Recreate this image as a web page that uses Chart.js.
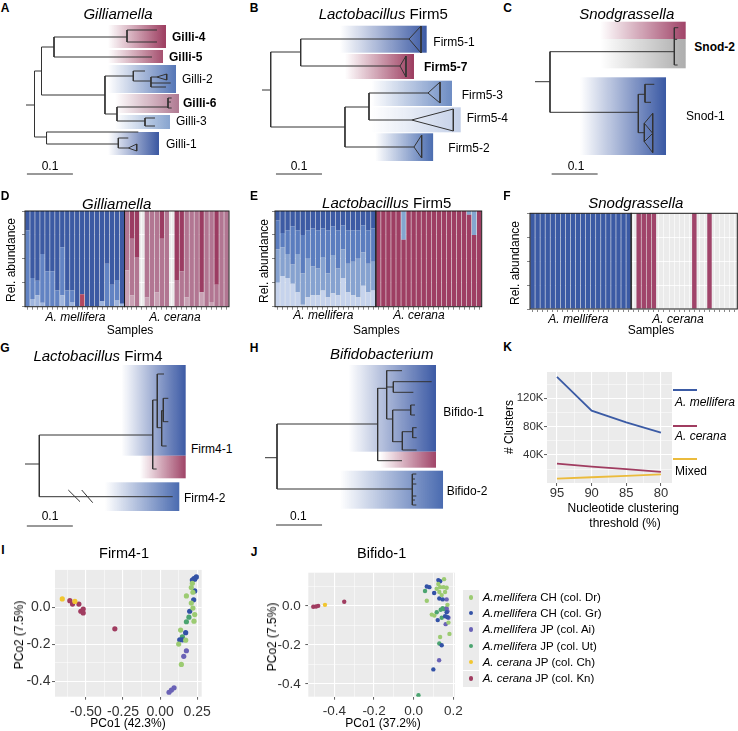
<!DOCTYPE html>
<html>
<head>
<meta charset="utf-8">
<script src="https://cdn.jsdelivr.net/npm/chart.js@4.4.1/dist/chart.umd.min.js"></script>
<style>
  body { margin: 0; background: #fff; }
  #fig { position: relative; width: 738px; height: 731px; overflow: hidden; font-family: 'Liberation Sans', Arial, sans-serif; color: #000; }
  #fig canvas { position: absolute; }
  .t { position: absolute; white-space: nowrap; line-height: 1; }
</style>
</head>
<body>
<div id="fig"></div>
<script>
// ---------- trees (x: branch length in 0.01 subst/site, y: row units) ----------
const gilliEdges = [
  [0,8.5,1.85,8.5],[1.85,5.1,1.85,11.7],[1.85,5.1,3.37,5.1],[3.37,2.7,3.37,7.5],
  [3.37,2.7,6.09,2.7],[6.09,1.7,6.09,3.7],[6.09,1.7,21.96,1.7],[21.96,1.0,21.96,2.2],
  [21.96,1.0,28.48,1.0],[21.96,2.2,28.48,2.2],[6.09,3.7,27.39,3.7],
  [3.37,7.5,17.17,7.5],[17.17,5.6,17.17,9.4],[17.17,5.6,23.33,5.6],[23.33,5.1,23.33,6.1],
  [23.33,5.1,25.87,5.1],[23.33,6.1,27.17,6.1],[27.17,5.7,27.17,6.7],[27.17,5.7,28.41,5.7],
  [27.17,6.3,31.46,6.3],[27.17,6.7,30.43,6.7],[17.17,9.4,19.78,9.4],[19.78,8.7,19.78,10.1],
  [19.78,8.7,30.87,8.7],[30.87,7.8,30.87,8.8],[30.87,7.8,31.67,7.8],[30.87,8.2,31.5,8.2],
  [30.87,8.8,31.67,8.8],[19.78,10.1,25.87,10.1],[25.87,9.8,25.87,10.6],[25.87,9.8,28.04,9.8],
  [25.87,10.6,28.04,10.6],[1.85,11.7,4.46,11.7],[4.46,11.2,4.46,12.4],[4.46,11.2,24.42,11.2],
  [4.46,12.4,20.07,12.4],[20.07,11.8,20.07,12.8],[20.07,11.8,22.24,11.8],[20.07,12.8,22.24,12.8]
];
const gilliTris = [[28.41,5.7,30.59,5.4,6.0],[22.24,12.8,24.07,12.4,13.1]];
const gilliClades = [
  [17.83,30.43,0.5,2.8,'#9c3c5f'],[17.83,29.78,3.0,4.3,'#a5506f'],[17.83,32.61,4.5,7.3,'#5576b6'],
  [19.35,33.26,7.4,9.3,'#b07a92'],[19.35,31.30,9.5,10.9,'#87a4cf'],[17.83,28.91,11.2,13.5,'#3a57a1']
];
const gilliScale = [0.2,10.2,15.4];

const firm5Edges = [
  [0,7.0,1.89,7.0],[1.89,3.2,1.89,10.7],[1.89,3.2,8.41,3.2],[8.41,1.9,8.41,4.6],
  [8.41,1.9,31.96,1.9],[8.41,4.6,30.0,4.6],[1.89,10.7,18.04,10.7],[18.04,8.7,18.04,12.7],
  [18.04,8.7,23.26,8.7],[23.26,7.3,23.26,10.0],[23.26,7.3,36.09,7.3],[23.26,10.0,32.54,10.0],
  [18.04,12.7,33.04,12.7]
];
const firm5Tris = [[31.96,1.9,34.57,0.6,3.3],[30.0,4.6,31.3,3.6,5.7],[36.09,7.3,38.7,6.2,8.3],
  [32.54,10.0,41.59,8.9,11.1],[33.04,12.7,34.71,11.5,13.8]];
const firm5Clades = [
  [16.96,35.8,0.57,3.27,'#3c5aa4'],[18.04,33.04,3.4,5.9,'#9c3c5f'],[23.8,41.3,6.07,8.6,'#6d8cc3'],
  [23.8,43.2,8.73,11.23,'#c4d0e8'],[24.6,37.2,11.33,14.1,'#4b6db0']
];
const firm5Scale = [3.04,13.04,15.4];

const snodEdges = [
  [0,6.17,3.26,6.17],[3.26,3.17,3.26,9.23],[3.26,3.17,30.29,3.17],[30.29,0.77,30.29,4.5],
  [30.29,0.77,31.15,0.77],[30.29,1.93,30.9,1.93],[30.29,4.5,31.0,4.5],[3.26,9.23,22.46,9.23],
  [22.46,7.43,22.46,11.27],[22.46,7.43,23.91,7.43],[23.91,6.43,23.91,8.23],[23.91,6.43,25.94,6.43],
  [23.91,8.23,25.22,8.23],[22.46,11.27,23.77,11.27],[23.77,10.33,23.77,12.17]
];
const snodTris = [[23.77,10.33,25.59,9.33,11.33],[23.77,12.17,25.59,11.33,13.27]];
const snodClades = [
  [14.13,32.76,0.17,1.9,'#a04468'],[14.13,32.76,1.9,4.83,'#adadad'],[9.78,28.48,5.73,13.5,'#3a59a4']
];
const snodScale = [3.62,13.62,15.4];

const firm4Edges = [
  [0,10.4,3.11,10.4],[3.11,7.5,3.11,13.67],[3.11,7.5,27.76,7.5],[27.76,4.0,27.76,10.9],
  [27.76,4.0,28.76,4.0],[28.76,1.4,28.76,6.77],[28.76,1.4,30.22,1.4],[28.76,6.77,29.71,6.77],
  [29.71,5.07,29.71,8.6],[29.71,5.07,30.07,5.07],[30.07,3.83,30.07,6.17],[30.07,3.83,31.16,3.83],
  [30.07,6.17,31.16,6.17],[29.71,8.6,30.8,8.6],[27.76,10.9,28.62,10.9],[3.11,13.67,32.11,13.67],
  [9.41,13.0,11.96,14.17],[12.33,13.0,14.72,14.27]
];
const firm4Clades = [
  [21.0,34.93,0.5,9.57,'#3c5aa5'],[25.0,34.93,9.57,11.83,'#9f4467'],[17.39,33.54,12.23,15.1,'#4a6bb0']
];
const firm4Scale = [0.4,10.4,16.6];

const bifidoEdges = [
  [0,9.77,2.61,9.77],[2.61,6.4,2.61,12.9],[2.61,6.4,24.49,6.4],[24.49,2.83,24.49,10.07],
  [24.49,2.83,26.45,2.83],[26.45,1.07,26.45,5.9],[26.45,1.07,29.78,1.07],[26.45,2.7,27.9,2.7],
  [27.9,2.17,27.9,3.23],[27.9,2.17,36.23,2.17],[27.9,3.23,32.25,3.23],[26.45,5.9,27.75,5.9],
  [27.75,5.0,27.75,8.17],[27.75,5.0,31.67,5.0],[31.67,4.5,31.67,5.5],[31.67,4.5,32.61,4.5],
  [31.67,5.5,32.61,5.5],[27.75,8.17,29.86,8.17],[29.86,7.17,29.86,9.0],[29.86,7.17,32.1,7.17],
  [32.1,6.77,32.1,7.77],[32.1,6.77,32.97,6.77],[32.1,7.77,32.97,7.77],[29.86,9.0,32.97,9.0],
  [24.49,10.07,29.78,10.07],[2.61,12.9,32.03,12.9],[32.03,11.4,32.03,14.5],
  [32.03,11.4,32.9,11.4],[32.03,11.9,32.6,11.9],[32.03,12.4,32.9,12.4],[32.03,13.6,32.9,13.6],
  [32.03,14.0,32.6,14.0],[32.03,14.5,32.9,14.5]
];
const bifidoClades = [
  [18.12,37.17,0.5,9.17,'#3c5aa5'],[25.0,37.17,9.17,10.77,'#a04468'],[16.3,38.7,11.07,14.87,'#4a6bb0']
];
const bifidoScale = [2.4,12.4,16.5];

// ---------- relative abundance bars (20 A. mellifera + 21 A. cerana samples) ----------
const sampleIds = Array.from({length: 41}, (_, i) => 'S' + (i + 1));
const nMellifera = 20;

const gilliPale  = [0,0.08,0.12,0.04,0,0,0,0.12,0,0.05,0,0,0,0,0,0.06,0,0,0.07,0.03, 0,0,0,0,0,0,0,0,0,0,0,0,0,0,0,0,0,0,0,0,0];
const gilliMid   = [0.8,0.22,0.15,0.51,0.37,0.37,0.17,0.5,0.17,0.12,0,0,0,0,0,0,0.45,0.23,0.21,0, 0,0,0,0,0,0,0,0,0,0,0,0,0,0,0,0,0,0,0,0,0];
const gilliRedM  = [0,0,0,0,0,0,0,0,0,0,0,0.13,0,0,0,0,0,0,0,0, 0,0,0,0,0,0,0,0,0,0,0,0,0,0,0,0,0,0,0,0,0];
const gilliDark  = [0.2,0.7,0.73,0.45,0.63,0.63,0.83,0.38,0.83,0.83,1,0.87,1,1,1,0.94,0.55,0.77,0.72,0.97, 0,0,0,0,0,0,0,0,0,0,0,0,0,0,0,0,0,0,0,0,0];
const gilliPink  = [0,0,0,0,0,0,0,0,0,0,0,0,0,0,0,0,0,0,0,0, 0.38,0.12,0,0,0.1,0,0.15,0,0,0,0,0,0.1,0,0,0.15,0,0.05,0,0,0];
const gilliRose  = [0,0,0,0,0,0,0,0,0,0,0,0,0,0,0,0,0,0,0,0, 0.62,0.59,0.52,0,0.9,1,0.85,0.71,1,0,0.28,0.37,0.9,1,1,0,1,0.95,0.23,1,1];
const gilliWine  = [0,0,0,0,0,0,0,0,0,0,0,0,0,0,0,0,0,0,0,0, 0,0.29,0.48,0,0,0,0,0.29,0,0,0.72,0.63,0,0,0,0.85,0,0,0.77,0,0];

const firm5Pale  = [0.25,0.32,0.3,0.24,0.15,0.02,0.1,0.12,0.12,0.17,0.1,0.14,0.12,0.3,0.15,0.12,0.1,0.22,0.15,0.17, 0,0,0,0,0,0,0,0,0,0,0,0,0,0,0,0,0,0,0,0,0];
const firm5Light = [0.35,0.3,0.25,0.2,0.4,0.33,0.4,0.3,0.28,0.35,0.25,0.4,0.28,0.3,0.3,0.35,0.4,0.35,0.3,0.3, 0,0,0,0,0,0,0,0,0,0,0,0,0,0,0,0,0,0,0,0,0];
const firm5Mid   = [0.3,0.15,0.25,0.4,0.25,0.4,0.3,0.4,0.4,0.3,0.45,0.3,0.4,0.25,0.35,0.33,0.3,0.28,0.35,0.35, 0,0,0,0,0,0,0,0,0,0,0,0,0,0,0,0,0,0,0,0,0];
const firm5Dark  = [0.1,0.23,0.2,0.16,0.2,0.25,0.2,0.18,0.2,0.18,0.2,0.16,0.2,0.15,0.2,0.2,0.2,0.15,0.2,0.18, 0,0,0,0,0,0,0,0,0,0,0,0,0,0,0,0,0,0,0,0,0];
const firm5Wine  = [0,0,0,0,0,0,0,0,0,0,0,0,0,0,0,0,0,0,0,0, 1,1,1,1,1,0.7,1,1,1,1,1,1,1,1,1,1,1,1,0.96,0.75,1];
const firm5Sky   = [0,0,0,0,0,0,0,0,0,0,0,0,0,0,0,0,0,0,0,0, 0,0,0,0,0,0.3,0,0,0,0,0,0,0,0,0,0,0,0,0.04,0.25,0];

const snodBlue   = [1,1,1,1,1,1,1,1,1,1,1,1,1,1,1,1,1,1,1,1, 0,0,0,0,0,0,0,0,0,0,0,0,0,0,0,0,0,0,0,0,0];
const snodWine   = [0,0,0,0,0,0,0,0,0,0,0,0,0,0,0,0,0,0,0,0, 0,1,1,1,1,0,0,0,0,0,0,0,1,0,0,1,0,0,0,0,0];

// ---------- K: clusters per clustering threshold ----------
const thresholds = [95, 90, 85, 80];
const mellClusters = [150000, 102500, 86000, 71500];
const ceranaClusters = [27700, 23400, 20100, 16000];
const mixedClusters = [6500, 8500, 10500, 12700];

// ---------- I: Firm4-1 PCoA ----------
const iDrX = [0.217,0.210,0.221,0.177,0.210,0.221,0.233,0.228,0.138,0.172,0.125,0.143];
const iDrY = [0.130,0.107,0.082,0.062,0.023,-0.004,-0.039,-0.075,-0.123,-0.178,-0.199,-0.309];
const iGrX = [0.228,0.244,0.217,0.233,0.226,0.199,0.172,0.132,0.150,0.233];
const iGrY = [0.156,0.165,0.148,0.089,0.041,-0.021,-0.137,-0.176,-0.176,0.153];
const iAiX = [0.177,0.159,0.094,0.076,0.060];
const iAiY = [-0.235,-0.265,-0.436,-0.448,-0.460];
const iUtX = [0.194,0.177,0.150];
const iUtY = [-0.053,-0.078,-0.160];
const iChX = [-0.659,-0.574];
const iChY = [0.046,0.032];
const iKnX = [-0.608,-0.590,-0.547,-0.534,-0.518,-0.518,-0.305];
const iKnY = [0.036,0.018,0.018,-0.021,-0.009,-0.030,-0.116];

// ---------- J: Bifido-1 PCoA ----------
const jDrX = [0.153,0.133,0.116,0.150,0.166,0.129,0.141,0.066,0.091,0.104,0.133,0.180,0.170,0.175,0.124,0.158];
const jDrY = [0.137,0.096,0.088,0.096,0.093,0.071,0.055,0.026,-0.045,-0.050,-0.160,-0.144,0.005,-0.086,0.112,0.071];
const jGrX = [0.124,0.133,0.079,0.066,0.103,0.129,0.146,0.121,0.166,0.170,0.141,0.099,0.158];
const jGrY = [0.132,0.126,0.096,0.099,0.066,0.038,0.033,-0.073,-0.033,-0.058,-0.202,-0.326,-0.053];
const jAiX = [0.166,0.166,0.170,0.161,0.175,0.128];
const jAiY = [0.033,-0.012,-0.028,-0.094,-0.061,-0.279];
const jUtX = [0.057,0.136,0.146,0.153,0.129,0.024,0.116,0.141];
const jUtY = [0.076,-0.020,-0.012,-0.017,-0.193,-0.458,-0.033,-0.061];
const jChX = [-0.447];
const jChY = [0.005];
const jKnX = [-0.506,-0.492,-0.481,-0.350];
const jKnY = [-0.005,-0.003,0.0,0.021];

const colonyNames = [
  ['<i>A.mellifera</i> CH (col. Dr)', '#9ccb72'],
  ['<i>A.mellifera</i> CH (col. Gr)', '#3352a6'],
  ['<i>A.mellifera</i> JP (col. Ai)', '#6a62b6'],
  ['<i>A.mellifera</i> JP (col. Ut)', '#4ba470'],
  ['<i>A. cerana</i> JP (col. Ch)', '#f1c630'],
  ['<i>A. cerana</i> JP (col. Kn)', '#a03c60']
];

// ---------------------------------------------------------------------------
Chart.defaults.font.family = "'Liberation Sans', Arial, sans-serif";
Chart.defaults.color = '#333';
Chart.defaults.animation = false;
Chart.defaults.plugins.legend.display = false;
Chart.defaults.plugins.tooltip.enabled = false;

const fig = document.getElementById('fig');
const BL_PX = 4.6;   // px per 0.01 substitutions/site
const ROW_PX = 10;   // px per tree row unit

function makeCanvas(left, top, w, h) {
  const c = document.createElement('canvas');
  c.width = w; c.height = h;
  c.style.left = left + 'px'; c.style.top = top + 'px';
  c.style.width = w + 'px'; c.style.height = h + 'px';
  fig.appendChild(c);
  return c;
}

function text(x, y, html, size, opt = {}) {
  const d = document.createElement('div');
  d.className = 't';
  d.innerHTML = html;
  d.style.left = x + 'px';
  d.style.top = y + 'px';
  d.style.fontSize = size + 'px';
  if (opt.bold) d.style.fontWeight = 'bold';
  if (opt.color) d.style.color = opt.color;
  const ax = opt.left ? '0' : '-50%';
  d.style.transform = `translate(${ax},-50%)` + (opt.rot ? ' rotate(-90deg)' : '');
  fig.appendChild(d);
}

function hexA(hex, a) {
  const n = parseInt(hex.slice(1), 16);
  return `rgba(${n >> 16},${(n >> 8) & 255},${n & 255},${a})`;
}

function cladePlugin(clades) {
  return {
    id: 'clades',
    beforeDatasetsDraw(chart) {
      const { ctx, scales: { x, y } } = chart;
      clades.forEach(([x1, x2, y1, y2, col]) => {
        const px1 = x.getPixelForValue(x1), px2 = x.getPixelForValue(x2);
        const py1 = y.getPixelForValue(y1), py2 = y.getPixelForValue(y2);
        const g = ctx.createLinearGradient(px1, 0, px2, 0);
        g.addColorStop(0, hexA(col, 0));
        g.addColorStop(1, hexA(col, 1));
        ctx.fillStyle = g;
        ctx.fillRect(px1, py1, px2 - px1, py2 - py1);
      });
    }
  };
}

function treePoints(edges, tris, bar) {
  const pts = [];
  edges.forEach(e => pts.push({x: e[0], y: e[1]}, {x: e[2], y: e[3]}, {x: null, y: null}));
  (tris || []).forEach(t => pts.push({x: t[0], y: t[1]}, {x: t[2], y: t[3]}, {x: t[2], y: t[4]}, {x: t[0], y: t[1]}, {x: null, y: null}));
  pts.push({x: bar[0], y: bar[2]}, {x: bar[1], y: bar[2]});
  return pts;
}

function drawTree(box, edges, tris, clades, bar) {
  const [left, top, w, h] = box;
  const c = makeCanvas(left, top, w, h);
  new Chart(c, {
    type: 'scatter',
    data: { datasets: [{ data: treePoints(edges, tris, bar), showLine: true, spanGaps: false,
      borderColor: '#333', borderWidth: 1, pointRadius: 0, clip: false }] },
    options: {
      responsive: false, devicePixelRatio: 1, events: [],
      layout: { padding: 0 },
      scales: {
        x: { type: 'linear', display: false, min: 0, max: w / BL_PX },
        y: { type: 'linear', display: false, min: 0, max: h / ROW_PX, reverse: true }
      }
    },
    plugins: [cladePlugin(clades)]
  });
}

const panelBg = {
  id: 'panelBg',
  beforeDraw(chart) {
    const { ctx, chartArea: a } = chart;
    ctx.save();
    ctx.fillStyle = '#ebebeb';
    ctx.fillRect(a.left, a.top, a.right - a.left, a.bottom - a.top);
    ctx.restore();
  }
};

function facetFrame(nFirst) {
  return {
    id: 'facets',
    afterDatasetsDraw(chart) {
      const { ctx, chartArea: a, scales: { x } } = chart;
      const mid = (x.getPixelForValue(nFirst - 1) + x.getPixelForValue(nFirst)) / 2;
      ctx.save();
      ctx.strokeStyle = '#1a1a1a';
      ctx.lineWidth = 1;
      ctx.strokeRect(a.left, a.top, mid - a.left, a.bottom - a.top);
      ctx.strokeRect(mid, a.top, a.right - mid, a.bottom - a.top);
      ctx.restore();
    }
  };
}

function drawBars(box, pad, yAxisW, layers) {
  const [left, top, w, h] = box;
  const c = makeCanvas(left, top, w, h);
  new Chart(c, {
    type: 'bar',
    data: {
      labels: sampleIds,
      datasets: layers.map(([data, color]) => ({ data, backgroundColor: color, borderWidth: 0,
        barPercentage: 0.88, categoryPercentage: 1 }))
    },
    options: {
      responsive: false, devicePixelRatio: 1, events: [],
      layout: { padding: pad },
      scales: {
        x: { stacked: true, border: { display: false }, ticks: { display: false },
             grid: { offset: false, color: '#fff', lineWidth: 0.6, tickLength: 3, tickColor: '#555', tickWidth: 0.7 },
             afterFit: s => { s.height = 3; } },
        y: { stacked: true, min: 0, max: 1, border: { display: false },
             ticks: { display: false, stepSize: 0.25 },
             grid: { color: '#fff', lineWidth: 0.8, tickLength: 3, tickColor: '#555', tickWidth: 0.7 },
             afterFit: s => { s.width = yAxisW; } }
      }
    },
    plugins: [panelBg, facetFrame(nMellifera)]
  });
}

function ggAxis(min, max, major, minor, fmt, size, pad, fit, reverse) {
  return {
    type: 'linear', min, max, reverse: !!reverse,
    border: { display: false },
    afterBuildTicks: s => { s.ticks = major.map(v => ({ value: v })).concat(minor.map(v => ({ value: v, minor: true }))); },
    afterFit: fit,
    ticks: { autoSkip: false, maxRotation: 0, padding: pad, color: '#333', font: { size },
             callback: (v, i, t) => t[i].minor ? '' : fmt(v) },
    grid: { color: '#fff', lineWidth: c => c.tick && c.tick.minor ? 0.5 : 1.1, tickLength: 3,
            tickColor: c => c.tick && c.tick.minor ? 'rgba(0,0,0,0)' : '#333', tickWidth: 0.8 }
  };
}

function drawPCoA(box, pad, yW, xH, xAxis, yAxis, groups, radius) {
  const [left, top, w, h] = box;
  const c = makeCanvas(left, top, w, h);
  new Chart(c, {
    type: 'scatter',
    data: { datasets: groups.map(([xs, ys, col]) => ({
      data: xs.map((x, i) => ({ x, y: ys[i] })), backgroundColor: col, borderWidth: 0, pointRadius: radius })) },
    options: {
      responsive: false, devicePixelRatio: 1, events: [],
      layout: { padding: pad },
      scales: {
        x: Object.assign(xAxis, { afterFit: s => { s.height = xH; } }),
        y: Object.assign(yAxis, { afterFit: s => { s.width = yW; } })
      }
    },
    plugins: [panelBg]
  });
}

// ---------- A, B, C, G, H : trees ----------
drawTree([26, 20, 160, 165], gilliEdges, gilliTris, gilliClades, gilliScale);
drawTree([262, 20, 205, 165], firm5Edges, firm5Tris, firm5Clades, firm5Scale);
drawTree([535, 20, 155, 165], snodEdges, snodTris, snodClades, snodScale);
drawTree([25, 360, 165, 175], firm4Edges, [], firm4Clades, firm4Scale);
drawTree([265, 360, 185, 175], bifidoEdges, [], bifidoClades, bifidoScale);

// ---------- D, E, F : stacked bars ----------
drawBars([0, 195, 240, 145], { left: 0, right: 11, top: 16, bottom: 30.3 }, 25, [
  [gilliPale, '#9fb5dd'], [gilliMid, '#6283c3'], [gilliRedM, '#b3485f'], [gilliDark, '#3c5aa3'],
  [gilliPink, '#c9a2b5'], [gilliRose, '#b27692'], [gilliWine, '#9b3c62']
]);
drawBars([240, 195, 250, 145], { left: 0, right: 8.3, top: 16, bottom: 30.3 }, 35, [
  [firm5Pale, '#c6d3ec'], [firm5Light, '#86a2d0'], [firm5Mid, '#5b7dbf'], [firm5Dark, '#3d5ba4'],
  [firm5Wine, '#9e3e63'], [firm5Sky, '#84a6cf']
]);
drawBars([490, 195, 248, 145], { left: 0, right: 0.7, top: 18.3, bottom: 28 }, 40, [
  [snodBlue, '#3b5aa4'], [snodWine, '#a0446a']
]);

// ---------- K : clusters vs threshold ----------
(function () {
  const c = makeCanvas(490, 360, 248, 180);
  const series = [[mellClusters, '#3b5ba5'], [ceranaClusters, '#a03c60'], [mixedClusters, '#ebbb3c']];
  new Chart(c, {
    type: 'line',
    data: { datasets: series.map(([vals, col]) => ({
      data: thresholds.map((t, i) => ({ x: t, y: vals[i] })), borderColor: col, borderWidth: 1.8,
      pointRadius: 0, tension: 0 })) },
    options: {
      responsive: false, devicePixelRatio: 1, events: [],
      layout: { padding: { left: 0, right: 66, top: 12, bottom: 37 } },
      scales: {
        x: ggAxis(78.4, 96.44, [95, 90, 85, 80], [92.5, 87.5, 82.5], v => String(v), 13, 0,
                  s => { s.height = 20; }, true),
        y: ggAxis(400, 157000, [40000, 80000, 120000], [20000, 60000, 100000, 140000],
                  v => (v / 1000) + 'K', 11.5, 0.5, s => { s.width = 57; })
      }
    },
    plugins: [panelBg]
  });
})();

// ---------- I, J : PCoA ----------
drawPCoA([0, 560, 240, 171], { left: 0, right: 38.3, top: 8, bottom: 0 }, 55, 34.3,
  ggAxis(-0.708, 0.28, [-0.5, -0.25, 0, 0.25], [-0.625, -0.375, -0.125, 0.125], v => v.toFixed(2), 14, 3.6),
  ggAxis(-0.484, 0.203, [0, -0.2, -0.4], [0.1, -0.1, -0.3], v => v.toFixed(1), 14, 1.5),
  [[iDrX, iDrY, colonyNames[0][1]], [iGrX, iGrY, colonyNames[1][1]], [iAiX, iAiY, colonyNames[2][1]],
   [iUtX, iUtY, colonyNames[3][1]], [iChX, iChY, colonyNames[4][1]], [iKnX, iKnY, colonyNames[5][1]]], 2.6);

drawPCoA([250, 560, 222, 171], { left: 0, right: 17, top: 8, bottom: 0 }, 58.3, 34.3,
  ggAxis(-0.531, 0.208, [-0.4, -0.2, 0, 0.2], [-0.5, -0.3, -0.1, 0.1], v => v.toFixed(1), 13.5, 3.6),
  ggAxis(-0.466, 0.170, [0, -0.2, -0.4], [0.1, -0.1, -0.3], v => v.toFixed(1), 13.5, 4.6),
  [[jDrX, jDrY, colonyNames[0][1]], [jGrX, jGrY, colonyNames[1][1]], [jAiX, jAiY, colonyNames[2][1]],
   [jUtX, jUtY, colonyNames[3][1]], [jChX, jChY, colonyNames[4][1]], [jKnX, jKnY, colonyNames[5][1]]], 2.2);

// ---------- text ----------
[['A',5,7.5],['B',254,7.5],['C',507.5,7.5],['D',5,195.5],['E',254,196],['F',507,196],
 ['G',5,347.5],['H',254,347.5],['K',507.5,347],['I',3,550],['J',254,552]]
  .forEach(([l, x, y]) => text(x, y, l, 12, { bold: true }));

text(118, 13.3, '<i>Gilliamella</i>', 15);
text(383.3, 13.3, '<i>Lactobacillus</i> Firm5', 15);
text(626.7, 13.3, '<i>Snodgrassella</i>', 15);
text(116.7, 203.3, '<i>Gilliamella</i>', 15);
text(386.7, 202.3, '<i>Lactobacillus</i> Firm5', 15);
text(635.8, 202.3, '<i>Snodgrassella</i>', 15);
text(98, 355, '<i>Lactobacillus</i> Firm4', 15);
text(381.7, 353.3, '<i>Bifidobacterium</i>', 15);
text(124, 553, 'Firm4-1', 14.5);
text(381.7, 553, 'Bifido-1', 14.5);

[['Gilli-4',172,37,1],['Gilli-5',169,57,1],['Gilli-2',182,79,0],['Gilli-6',183,103,1],['Gilli-3',176,121,0],['Gilli-1',166,144,0],
 ['Firm5-1',433.3,41.7,0],['Firm5-7',424,66.7,1],['Firm5-3',461.7,95,0],['Firm5-4',466.7,118.3,0],['Firm5-2',448.3,148.3,0],
 ['Snod-2',694.3,46.7,1],['Snod-1',686,116,0],
 ['Firm4-1',191,449,0],['Firm4-2',184,498.3,0],['Bifido-1',443.3,412.3,0],['Bifido-2',446.7,491,0]]
  .forEach(([s, x, y, b]) => text(x, y, s, 12, { left: true, bold: !!b }));

[[50,166],[299,166],[576,166],[50,516],[298.3,516]].forEach(([x, y]) => text(x, y, '0.1', 12));

// bar panel axis texts
[[11.3,260,75.5,175,317.3,130],[264,261,323.3,419,315,376.3],[515,263.3,578.3,678,319,651]]
  .forEach(([rx, ry, mx, cx, fy, sx]) => {
    text(rx, ry, 'Rel. abundance', 12, { rot: true });
    text(mx, fy, '<i>A. mellifera</i>', 12);
    text(cx, fy, '<i>A. cerana</i>', 12);
    text(sx, 330, 'Samples', 12);
  });

// K texts + legend
text(509, 427, '# Clusters', 12, { rot: true });
text(623.3, 508, 'Nucleotide clustering', 12);
text(625, 523, 'threshold (%)', 12);
[[390, 402, '<i>A. mellifera</i>', '#3b5ba5'], [426, 436, '<i>A. cerana</i>', '#a03c60'], [459.3, 471, 'Mixed', '#ebbb3c']]
  .forEach(([ly, ty, s, col]) => {
    const k = document.createElement('div');
    k.style.cssText = `position:absolute;left:673px;top:${ly - 1}px;width:24px;height:2px;background:${col}`;
    fig.appendChild(k);
    text(675, ty, s, 12, { left: true });
  });

// I, J axis titles
text(128, 723, 'PCo1 (42.3%)', 12);
text(18.7, 634.7, 'PCo2 (7.5%)', 12, { rot: true });
text(383, 723, 'PCo1 (37.2%)', 12);
text(272, 637, 'PCo2 (7.5%)', 12, { rot: true });

// J legend
const legendY = [597.5, 613, 629.5, 646, 662, 678.7];
colonyNames.forEach(([s, col], i) => {
  const bg = document.createElement('div');
  bg.style.cssText = `position:absolute;left:463px;top:${legendY[i] - 8}px;width:16px;height:16px;background:#ebebeb`;
  fig.appendChild(bg);
  const dot = document.createElement('div');
  dot.style.cssText = `position:absolute;left:${471 - 2.3}px;top:${legendY[i] - 2.3}px;width:4.6px;height:4.6px;border-radius:50%;background:${col}`;
  fig.appendChild(dot);
  text(482.7, legendY[i] + 0.5, s, 11.5, { left: true });
});
</script>
</body>
</html>
